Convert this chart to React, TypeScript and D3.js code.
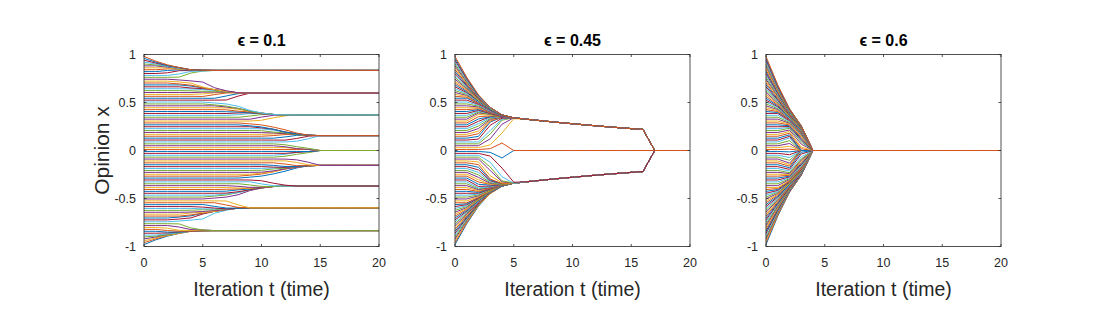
import React from "react";
import * as d3 from "d3";

// model parameters (titles and axes)
const epsilons = [0.1, 0.45, 0.6];
const nAgents = 100;
const nSteps = 20;
const xTicks = [0, 5, 10, 15, 20];
const yTicks = [-1, -0.5, 0, 0.5, 1];
const yTickLabels = ["-1", "-0.5", "0", "0.5", "1"];
const colors = ["#0072BD", "#D95319", "#EDB120", "#7E2F8E", "#77AC30", "#4DBEEE", "#A2142F"];

// initial opinions: 100 agents evenly spaced inside (-1, 1), endpoints excluded
const initialOpinions = d3.range(nAgents).map((i) => -1 + (2 * (i + 1)) / (nAgents + 1));

// Hegselmann-Krause bounded confidence update
function simulate(eps: number): number[][] {
  const hist: number[][] = [initialOpinions.slice()];
  let x = initialOpinions.slice();
  for (let t = 0; t < nSteps; t++) {
    const next = x.map((xi) => {
      let s = 0;
      let n = 0;
      for (const xj of x) {
        if (Math.abs(xj - xi) <= eps) {
          s += xj;
          n++;
        }
      }
      return s / n;
    });
    hist.push(next);
    x = next;
  }
  return hist;
}

const W = 1107;
const H = 312;
const panelLeft = [144, 455, 766];
const panelWidth = 235;
const top = 54.5;
const bottom = 246.5;
const axisColor = "#262626";
const font = "'Liberation Sans', Arial, Helvetica, sans-serif";

const Panel = ({ eps, left, first }: { eps: number; left: number; first: boolean }) => {
  const x = d3.scaleLinear().domain([0, 20]).range([left, left + panelWidth]);
  const y = d3.scaleLinear().domain([-1, 1]).range([bottom, top]);
  const hist = simulate(eps);
  const line = d3
    .line<number>()
    .x((_, t) => x(t))
    .y((v) => y(v));
  const tl = 2.5;
  return (
    <g>
      {d3.range(nAgents).map((i) => (
        <path
          key={i}
          d={line(hist.map((row) => row[i])) || ""}
          fill="none"
          stroke={colors[i % colors.length]}
          strokeWidth={1}
        />
      ))}
      <rect
        x={left}
        y={top}
        width={panelWidth}
        height={bottom - top}
        fill="none"
        stroke={axisColor}
        strokeWidth={0.8}
      />
      {xTicks.map((t) => (
        <g key={"x" + t}>
          <line x1={x(t)} x2={x(t)} y1={bottom} y2={bottom - tl} stroke={axisColor} strokeWidth={0.8} />
          <line x1={x(t)} x2={x(t)} y1={top} y2={top + tl} stroke={axisColor} strokeWidth={0.8} />
          <text x={x(t)} y={267} textAnchor="middle" fontSize={12.5} fill={axisColor} fontFamily={font}>
            {t}
          </text>
        </g>
      ))}
      {yTicks.map((v, k) => (
        <g key={"y" + v}>
          <line x1={left} x2={left + tl} y1={y(v)} y2={y(v)} stroke={axisColor} strokeWidth={0.8} />
          <line
            x1={left + panelWidth}
            x2={left + panelWidth - tl}
            y1={y(v)}
            y2={y(v)}
            stroke={axisColor}
            strokeWidth={0.8}
          />
          <text
            x={left - 8}
            y={y(v) + 4.5}
            textAnchor="end"
            fontSize={12.5}
            fill={axisColor}
            fontFamily={font}
          >
            {yTickLabels[k]}
          </text>
        </g>
      ))}
      <text
        x={left + panelWidth / 2}
        y={45.5}
        textAnchor="middle"
        fontSize={16}
        fontWeight="bold"
        fill="#000"
        fontFamily={font}
      >
        {"ϵ = " + eps}
      </text>
      <text
        x={left + panelWidth / 2}
        y={296}
        textAnchor="middle"
        fontSize={19.5}
        fill={axisColor}
        fontFamily={font}
      >
        Iteration t (time)
      </text>
      {first && (
        <text
          transform={`translate(109,${(top + bottom) / 2}) rotate(-90)`}
          textAnchor="middle"
          fontSize={21}
          fill={axisColor}
          fontFamily={font}
        >
          Opinion x
        </text>
      )}
    </g>
  );
};

export default function App() {
  return (
    <svg
      width={W}
      height={H}
      style={{ position: "absolute", left: 0, top: 0, background: "#fff" }}
    >
      <rect width={W} height={H} fill="#fff" />
      {epsilons.map((eps, k) => (
        <Panel key={eps} eps={eps} left={panelLeft[k]} first={k === 0} />
      ))}
    </svg>
  );
}
